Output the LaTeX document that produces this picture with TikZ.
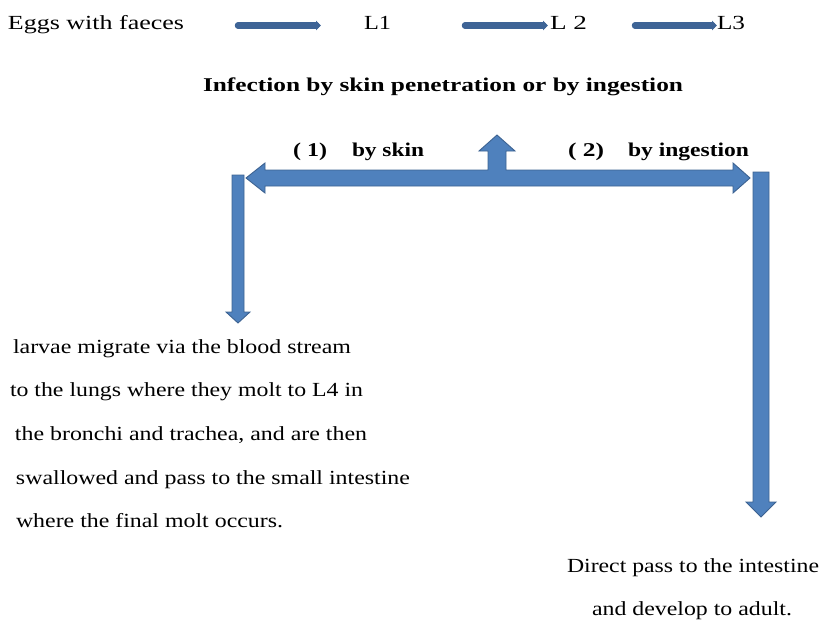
\documentclass[tikz,border=0pt]{standalone}
\usepackage{fontspec}
\usepackage{graphicx}
\setmainfont{Liberation Serif}
\usetikzlibrary{arrows.meta}

\definecolor{blockfill}{RGB}{79,129,189}
\definecolor{blockline}{RGB}{60,98,145}
\definecolor{thinarrow}{RGB}{62,100,150}

% text stretched horizontally to a given width, height kept
\newcommand{\wtext}[2]{\resizebox{#1pt}{\height}{#2}}

\tikzset{
  lbl/.style={anchor=base west, inner sep=0pt, outer sep=0pt,
              font=\fontsize{20}{20}\selectfont},
  blbl/.style={lbl, font=\fontsize{19.5}{20}\selectfont\bfseries},
  stagearrow/.style={draw=thinarrow, line width=6.5pt, line cap=round,
              -{Triangle[length=5pt,width=9.5pt]}},
  blockarrow/.style={fill=blockfill, draw=blockline, line width=0.9pt,
              line join=miter}
}

\begin{document}
\begin{tikzpicture}[x=1pt, y=-1pt]
\useasboundingbox (0,0) rectangle (822,621);

% developmental stages
\node[lbl] (eggs) at (8,29)   {\wtext{176}{Eggs with faeces}};
\node[lbl] (l1)   at (364,29) {\wtext{27}{L1}};
\node[lbl] (l2)   at (550,29) {\wtext{37}{L 2}};
\node[lbl] (l3)   at (717,29) {\wtext{28}{L3}};

\coordinate (s1a) at (238,25.5); \coordinate (s1b) at (321,25.5);
\coordinate (s2a) at (465,25.5); \coordinate (s2b) at (548,25.5);
\coordinate (s3a) at (635,25.5); \coordinate (s3b) at (717,25.5);
\draw[stagearrow] (s1a) -- (s1b);
\draw[stagearrow] (s2a) -- (s2b);
\draw[stagearrow] (s3a) -- (s3b);

% routes of infection
\node[blbl] (infect) at (203,91)
  {\wtext{480}{Infection by skin penetration or by ingestion}};
\node[blbl] (n1)    at (293,156) {\wtext{34}{( 1)}};
\node[blbl] (skin)  at (352,156) {\wtext{72}{by skin}};
\node[blbl] (n2)    at (568,156) {\wtext{36}{( 2)}};
\node[blbl] (ingest) at (628,156) {\wtext{121}{by ingestion}};

% left-right-up block arrow
\draw[blockarrow]
  (246,178) -- (265,163) -- (265,170) -- (488,170) -- (488,151)
  -- (479,151) -- (497,135) -- (515,151) -- (506,151) -- (506,170)
  -- (733,170) -- (733,163) -- (750,178) -- (733,193) -- (733,186)
  -- (265,186) -- (265,193) -- cycle;

% down arrow, skin route
\draw[blockarrow]
  (232,175) -- (244,175) -- (244,312) -- (250,312) -- (238,323)
  -- (226,312) -- (232,312) -- cycle;

% down arrow, ingestion route
\draw[blockarrow]
  (753,172) -- (769,172) -- (769,502) -- (776,502) -- (761,517)
  -- (746,502) -- (753,502) -- cycle;

% skin route description
\node[lbl] (p1) at (13,353) {\wtext{338}{larvae migrate via the blood stream}};
\node[lbl] (p2) at (10,396) {\wtext{353}{to the lungs where they molt to L4 in}};
\node[lbl] (p3) at (15,440) {\wtext{352}{the bronchi and trachea, and are then}};
\node[lbl] (p4) at (16,484) {\wtext{394}{swallowed and pass to the small intestine}};
\node[lbl] (p5) at (16,527) {\wtext{267}{where the final molt occurs.}};

% ingestion route description
\node[lbl] (q1) at (567,572) {\wtext{252}{Direct pass to the intestine}};
\node[lbl] (q2) at (592,615) {\wtext{200}{and develop to adult.}};
\end{tikzpicture}
\end{document}
